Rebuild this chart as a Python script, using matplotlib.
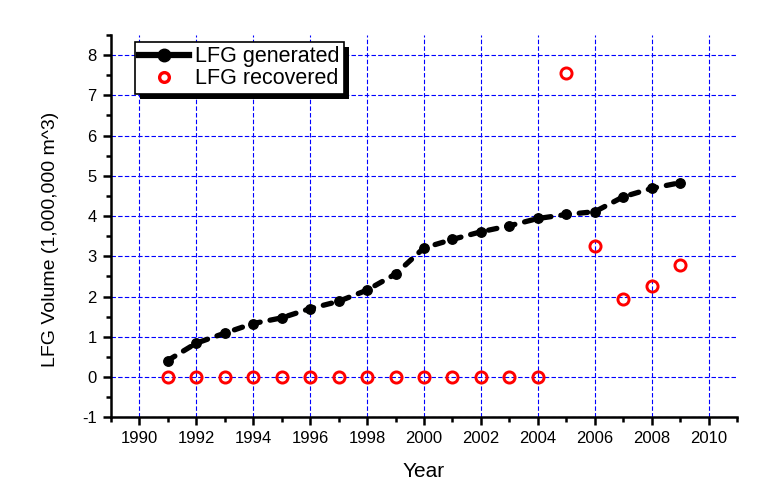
import matplotlib
matplotlib.use("Agg")
import matplotlib.pyplot as plt
from matplotlib.lines import Line2D
from matplotlib.patches import Rectangle
from matplotlib.transforms import IdentityTransform
from matplotlib.ticker import MultipleLocator

plt.rcParams['font.family'] = ['Liberation Sans', 'DejaVu Sans']
plt.rcParams['axes.unicode_minus'] = False

years = list(range(1991, 2010))
generated = [0.41, 0.84, 1.09, 1.33, 1.47, 1.70, 1.88, 2.16, 2.56, 3.21,
             3.42, 3.61, 3.76, 3.94, 4.04, 4.11, 4.48, 4.69, 4.83]
recovered = [0, 0, 0, 0, 0, 0, 0, 0, 0, 0, 0, 0, 0, 0,
             7.55, 3.26, 1.95, 2.25, 2.79]

xticks = list(range(1990, 2011, 2))
yticks = list(range(-1, 9))

fig = plt.figure(figsize=(7.65, 4.9), dpi=100)
ax = fig.add_axes([0.1447, 0.1484, 0.8191, 0.7802])

ax.plot(years, generated, color='black', lw=3.8, linestyle=(0, (1.6, 1.9)),
        dash_capstyle='round', marker='o', markersize=6.8, zorder=3)
ax.plot(years, recovered, linestyle='none', marker='o', markersize=8,
        markerfacecolor='none', markeredgecolor='#ff0000', markeredgewidth=2.1,
        zorder=4, clip_on=False)

ax.set_xlim(1989, 2011)
ax.set_ylim(-1, 8.5)
ax.set_xticks(xticks)
ax.set_yticks(yticks)
ax.xaxis.set_minor_locator(MultipleLocator(1))
ax.yaxis.set_minor_locator(MultipleLocator(0.5))

ax.grid(True, which='major', color='#0000ff', linestyle=(0, (4, 2)), linewidth=0.8)
ax.set_axisbelow(True)

for s in ['top', 'right']:
    ax.spines[s].set_visible(False)
for s in ['left', 'bottom']:
    ax.spines[s].set_linewidth(1.8)

ax.tick_params(which='major', direction='out', length=6, width=1.8, labelsize=12, pad=4)
ax.tick_params(which='minor', direction='out', length=3.5, width=1.8)

ax.set_xlabel('Year', fontsize=15)
ax.set_ylabel('LFG Volume (1,000,000 m^3)', fontsize=14)
ax.yaxis.set_label_coords(-0.0825, 0.466)
ax.xaxis.set_label_coords(0.5, -0.117)

handles = [
    Line2D([], [], color='black', lw=4.5, marker='o', markersize=9),
    Line2D([], [], linestyle='none', marker='o', markersize=7, markerfacecolor='none',
           markeredgecolor='#ff0000', markeredgewidth=2.4),
]
leg = ax.legend(handles, ['LFG generated', 'LFG recovered'], loc='upper left',
                bbox_to_anchor=(0.039, 0.982), fontsize=15.5, fancybox=False,
                frameon=True, framealpha=1, edgecolor='black', handlelength=2.3,
                handletextpad=0.3, borderpad=0.2, labelspacing=0.05,
                borderaxespad=0)
leg.get_frame().set_linewidth(1.2)
leg.set_zorder(10)

fig.canvas.draw()
bb = leg.get_window_extent()
shadow = Rectangle((bb.x0 + 5, bb.y0 - 5), bb.width, bb.height, transform=IdentityTransform(),
                   facecolor='black', edgecolor='none', zorder=9, clip_on=False)
ax.add_patch(shadow)

fig.savefig('out.png', dpi=100)
